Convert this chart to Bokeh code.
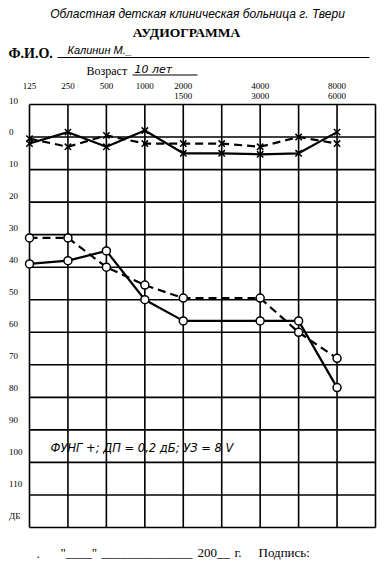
from bokeh.plotting import figure
from bokeh.models import Range1d
from bokeh.core.properties import value
from bokeh.embed import file_html
from bokeh.resources import INLINE

# ---------------- data ----------------
freq_top_labels = ["125", "250", "500", "1000", "2000", "4000", "8000"]
freq_top_cols = [0, 1, 2, 3, 4, 6, 8]
freq_bottom_labels = ["1500", "3000", "6000"]
freq_bottom_cols = [4, 6, 8]

db_ticks = [-10, 0, 10, 20, 30, 40, 50, 60, 70, 80, 90, 100, 110, 120]
db_labels = ["10", "0", "10", "20", "30", "40", "50", "60", "70", "80", "90", "100", "110", "ДБ"]

# crosses, all 9 columns
x_cols = [0, 1, 2, 3, 4, 5, 6, 7, 8]
cross_solid = [2, -1.5, 3, -2, 5, 5, 5.3, 5, -1.5]
cross_dashed = [0.5, 3, -0.5, 2, 2, 2, 3, 0, 2]

# circles (no point on column 5)
o_cols = [0, 1, 2, 3, 4, 6, 7, 8]
circle_solid = [39, 38, 35, 50, 56.5, 56.5, 56.5, 77]
circle_dashed = [31, 31, 40, 45.5, 49.5, 49.5, 60, 68]

# ---------------- layout helpers ----------------
W, H = 384, 567
GRID_L, GRID_R = 29, 375
GRID_T, GRID_B = 104, 527
NCOL = 9
DB_T, DB_B = db_ticks[0], db_ticks[-1]
sx = (GRID_R - GRID_L) / NCOL
sy = (GRID_B - GRID_T) / (DB_B - DB_T)


def X(px):
    return (px - GRID_L) / sx


def Y(py):
    return DB_T + (py - GRID_T) / sy


p = figure(width=W, height=H,
           x_range=Range1d(X(0), X(W)),
           y_range=Range1d(Y(H), Y(0)),
           output_backend="svg", toolbar_location=None,
           x_axis_location=None, y_axis_location=None,
           min_border=0)
p.grid.visible = False
p.outline_line_color = None
p.background_fill_color = "white"
p.border_fill_color = "white"


def label(px, py, s, font, size, style="normal", align="left"):
    p.text(x=[X(px)], y=[Y(py)], text=[s], text_font=value(font),
           text_font_size=f"{size}px", text_font_style=style,
           text_align=align, text_baseline="middle", text_color="black")


# ---------------- header ----------------
label(197, 13, "Областная детская клиническая больница г. Твери", "Liberation Sans", 12, "italic", "center")
label(186, 32, "АУДИОГРАММА", "Liberation Serif", 13.5, "bold", "center")
label(8, 53, "Ф.И.О.", "Liberation Serif", 14, "bold")
p.segment(x0=[X(57)], y0=[Y(57)], x1=[X(369)], y1=[Y(57)], line_color="black", line_width=1)
label(67, 49.5, "Калинин М._", "Liberation Sans", 11, "italic")
label(86, 70.5, "Возраст", "Liberation Serif", 12)
p.segment(x0=[X(132)], y0=[Y(74.5)], x1=[X(197)], y1=[Y(74.5)], line_color="black", line_width=1)
label(134, 69, "10 лет", "DejaVu Sans", 11, "italic")

# ---------------- frequency labels ----------------
p.text(x=freq_top_cols, y=[Y(85.5)] * len(freq_top_cols), text=freq_top_labels,
       text_font=value("Liberation Serif"), text_font_size="9px",
       text_align="center", text_baseline="middle", text_color="black")
p.text(x=freq_bottom_cols, y=[Y(95.5)] * len(freq_bottom_cols), text=freq_bottom_labels,
       text_font=value("Liberation Serif"), text_font_size="9px",
       text_align="center", text_baseline="middle", text_color="black")

# ---------------- grid ----------------
cols = list(range(NCOL + 1))
p.segment(x0=cols, y0=[DB_T] * len(cols), x1=cols, y1=[DB_B] * len(cols),
          line_color="black", line_width=1.6)
p.segment(x0=[0] * len(db_ticks), y0=db_ticks, x1=[NCOL] * len(db_ticks), y1=db_ticks,
          line_color="black", line_width=1.6)

# dB labels (sit a little above each line)
n = len(db_ticks)
lab_y = [t - (4 + 8 * i / (n - 1)) / sy for i, t in enumerate(db_ticks)]
p.text(x=[X(8.5)] * n, y=lab_y, text=db_labels,
       text_font=value("Liberation Serif"), text_font_size="9px",
       text_align="left", text_baseline="middle", text_color="black")

# ---------------- curves ----------------
p.line(x_cols, cross_solid, line_color="black", line_width=2.2)
p.line(x_cols, cross_dashed, line_color="black", line_width=2.2, line_dash="8 5")
p.scatter(x_cols, cross_solid, marker="x", size=9, line_color="black", line_width=1.5)
p.scatter(x_cols, cross_dashed, marker="x", size=9, line_color="black", line_width=1.5)

p.line(o_cols, circle_solid, line_color="black", line_width=2.2)
p.line(o_cols, circle_dashed, line_color="black", line_width=2.2, line_dash="8 5")
p.scatter(o_cols, circle_solid, marker="circle", size=8, fill_color="white",
          line_color="black", line_width=1.5)
p.scatter(o_cols, circle_dashed, marker="circle", size=8, fill_color="white",
          line_color="black", line_width=1.5)

# ---------------- notes ----------------
label(50, 447, "ФУНГ +; ДП = 0,2 дБ; УЗ = 8 V", "DejaVu Sans", 11.5, "italic")

label(36, 553, ".", "Liberation Serif", 13)
label(60, 552, '"____"', "Liberation Serif", 13)
label(101, 552, "______________", "Liberation Serif", 13)
label(197, 552, "200__", "Liberation Serif", 13)
label(234, 552, "г.", "Liberation Serif", 13)
label(258, 552, "Подпись:", "Liberation Serif", 13)

open("out.html", "w").write(file_html(p, INLINE))
